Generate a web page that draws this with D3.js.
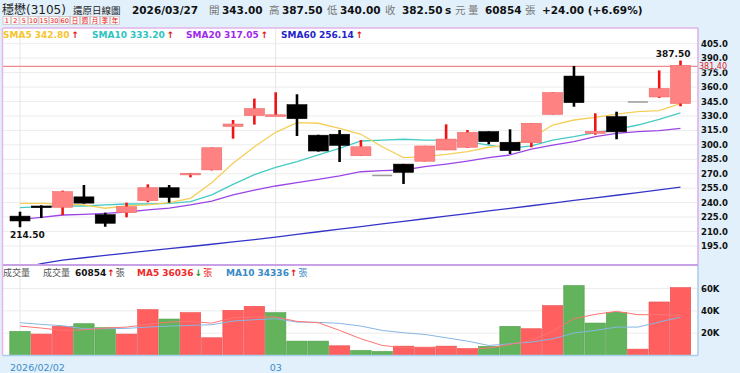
<!DOCTYPE html>
<html>
<head>
<meta charset="utf-8">
<script src="https://cdn.jsdelivr.net/npm/d3@7"></script>
<style>
body { margin: 0; background: #e1f0fb; }
svg { display: block; font-family: "DejaVu Sans", "Noto Sans CJK TC", sans-serif; }
</style>
</head>
<body>
<div id="chart"></div>
<script>
// daily candles 2026/02/02 .. 2026/03/27 (adjusted)
const opens  = [226, 236.5, 235.2, 246, 227.5, 229.6, 242, 255.5, 269.5, 274, 319.2, 330.5, 330.5, 341.7, 310, 311, 288.7, 268.2, 280, 283, 294.7, 297.5, 313.7, 302.7, 302.2, 331.7, 371.4, 312, 329.3, 344.5, 349.7, 343];
const highs  = [230.6, 237.3, 252.5, 258.3, 229.6, 240, 259, 258.3, 270.7, 297.2, 325.8, 348, 354.6, 352.5, 310.5, 315.4, 305, 268.2, 280.2, 299, 321.3, 315.4, 314, 316.1, 322.6, 354.5, 381.9, 332.8, 334.4, 344.5, 377.3, 387.5];
const lows   = [214.5, 224, 227, 239, 215, 224.8, 240.4, 240, 266.3, 273.5, 306.4, 321, 330.4, 309.2, 293, 282.2, 288.5, 268.2, 259.4, 282.8, 294.5, 297, 300.6, 290.5, 297.5, 331.5, 339.6, 310.5, 305.8, 344.5, 348.7, 340];
const closes = [221, 235.5, 251.4, 239.5, 218.6, 235.8, 255.5, 245.5, 270.5, 297, 321.6, 337.6, 331.2, 327.2, 293.6, 299.5, 298, 268.2, 271.5, 298.8, 306, 313, 303.3, 294, 322.4, 354.2, 343.8, 314, 313.5, 344.5, 358.5, 382.5];
const prevClose = 224;

const sma5  = [239.3, 239.3, 238.6, 237.6, 234.2, 236.6, 237.6, 240, 244.5, 260.7, 280.8, 298.1, 313, 323, 322.4, 317.2, 311, 298, 286.7, 287.7, 290.2, 292.9, 297.5, 299.8, 307, 320.6, 325.8, 328.6, 332, 334.4, 335.5, 342.8];
const sma10 = [234.8, 235.8, 236.5, 236.5, 237.6, 238.6, 238.6, 239.3, 241, 248, 259, 269, 276.7, 282.5, 289.5, 296.4, 304, 305, 305.8, 305, 305, 303.3, 299.8, 296.4, 299, 305, 308.5, 312.6, 316.1, 320.6, 326.5, 333.2];
const sma20 = [222.7, 224.8, 227.2, 227.9, 228.9, 230.3, 232.4, 234.4, 237.6, 241.5, 248, 253.1, 257.3, 260.7, 264.2, 267.7, 272.1, 273.2, 273.9, 277.3, 280.1, 283.2, 286.7, 289.5, 295.5, 299.8, 303.3, 308.5, 312, 313.7, 314.8, 317.05];
const sma60 = [171.5, 176.6, 180.4, 182.8, 185.2, 187.6, 189.9, 192.2, 194.5, 196.8, 199.2, 201.6, 204.3, 207.0, 209.8, 212.5, 215.2, 217.9, 220.6, 223.3, 226.0, 228.7, 231.4, 234.1, 236.8, 239.5, 242.3, 245.0, 247.7, 250.4, 253.2, 256.14];

const volumes = [21600, 19200, 26100, 28500, 24900, 19200, 41100, 32700, 38400, 15900, 40500, 44100, 38400, 12900, 12900, 8700, 4500, 3600, 8400, 7500, 8400, 6000, 8100, 26100, 24000, 44700, 62700, 29100, 38700, 5700, 48000, 60854];
const volMa5  = [26400, 24600, 22500, 23000, 24600, 25500, 27900, 30000, 30600, 29000, 34000, 34500, 34500, 30600, 29400, 22500, 15000, 9000, 6900, 6900, 6600, 6000, 6600, 9900, 13500, 21900, 33000, 36900, 39600, 36600, 36600, 36036];
const volMa10 = [29400, 27900, 26700, 24000, 24000, 24300, 25500, 26400, 27000, 27600, 30900, 32100, 33000, 30000, 29700, 28800, 26400, 22500, 20400, 18900, 15900, 12900, 9000, 10500, 12000, 15000, 20100, 22500, 25500, 25500, 30000, 34336];

const priceTicks = [195, 210, 225, 240, 255, 270, 285, 300, 315, 330, 345, 360, 375, 390, 405];
const volTicks = [20000, 40000, 60000];
const dateTickIdx = [0, 12];
const dateTickText = ['2026/02/02', '03'];
const refPrice = 381.40;
const btnLabels = ['1', '2', '5', '10', '15', '30', '60', '日', '週', '月', '季', '年'];

const W = 740, H = 373;
const L = 3, R = 698, T = 28, PB = 265, VB = 355.5;

const svg = d3.select('#chart').append('svg').attr('width', W).attr('height', H);

const n = closes.length;
const x = d3.scalePoint().domain(d3.range(n)).range([20, 680.5]);
const y = d3.scaleLinear().domain([195, 405]).range([246, 43.7]);
const yv = d3.scaleLinear().domain([0, 60000]).range([VB, 288.6]);

// plot background
svg.append('rect').attr('x', L).attr('y', T).attr('width', R - L).attr('height', VB - T).attr('fill', '#fff');

const defs = svg.append('defs');
defs.append('clipPath').attr('id', 'cp').append('rect').attr('x', L).attr('y', T).attr('width', R - L).attr('height', PB - T);
defs.append('clipPath').attr('id', 'cv').append('rect').attr('x', L).attr('y', PB).attr('width', R - L).attr('height', VB - PB);

// grid
svg.append('g').selectAll('line').data(priceTicks).join('line')
  .attr('x1', L).attr('x2', R).attr('y1', d => y(d)).attr('y2', d => y(d))
  .attr('stroke', '#ececec').attr('stroke-width', 1);
svg.append('g').selectAll('line').data(volTicks).join('line')
  .attr('x1', L).attr('x2', R).attr('y1', d => yv(d)).attr('y2', d => yv(d))
  .attr('stroke', '#ececec').attr('stroke-width', 1);
svg.append('g').selectAll('line').data(dateTickIdx).join('line')
  .attr('x1', d => x(d)).attr('x2', d => x(d)).attr('y1', T).attr('y2', VB)
  .attr('stroke', '#e6e6e6').attr('stroke-width', 1);

// reference line
svg.append('line').attr('x1', L).attr('x2', R).attr('y1', y(refPrice)).attr('y2', y(refPrice))
  .attr('stroke', '#f08a8a').attr('stroke-width', 1.2);

// price MAs
const pg = svg.append('g').attr('clip-path', 'url(#cp)');
const lineOf = arr => d3.line().x((d, i) => x(i)).y(d => y(d))(arr);
[[sma60, '#3434c8'], [sma20, '#9b45e6'], [sma10, '#46cbc4'], [sma5, '#f5cf5a']].forEach(([arr, c]) => {
  pg.append('path').attr('d', lineOf(arr)).attr('fill', 'none').attr('stroke', c).attr('stroke-width', 1.3);
});

// candles
const kind = i => closes[i] > opens[i] ? 'up' : (closes[i] < opens[i] ? 'down' : 'flat');
const cg = svg.append('g');
d3.range(n).forEach(i => {
  const k = kind(i), cx = x(i);
  if (k === 'flat') {
    cg.append('line').attr('x1', cx - 10).attr('x2', cx + 10).attr('y1', y(closes[i])).attr('y2', y(closes[i]))
      .attr('stroke', '#9a9a9a').attr('stroke-width', 1.5);
    return;
  }
  cg.append('line').attr('x1', cx).attr('x2', cx).attr('y1', y(highs[i])).attr('y2', y(lows[i]))
    .attr('stroke', k === 'up' ? '#ee1414' : '#000').attr('stroke-width', 2.6);
  const top = y(Math.max(opens[i], closes[i])), bot = y(Math.min(opens[i], closes[i]));
  cg.append('rect').attr('x', cx - 10).attr('width', 20).attr('y', top).attr('height', Math.max(1.6, bot - top))
    .attr('fill', k === 'up' ? '#ff8282' : '#000')
    .attr('stroke', k === 'up' ? '#f06868' : '#000').attr('stroke-width', 0.6);
});

// high / low labels
const hiIdx = d3.maxIndex(highs), loIdx = d3.minIndex(lows);
svg.append('text').attr('x', x(hiIdx) + 10).attr('y', y(highs[hiIdx]) - 4).attr('text-anchor', 'end')
  .attr('font-size', 9).attr('font-weight', 'bold').attr('fill', '#111').text(highs[hiIdx].toFixed(2));
svg.append('text').attr('x', x(loIdx) - 10).attr('y', y(lows[loIdx]) + 11)
  .attr('font-size', 9).attr('font-weight', 'bold').attr('fill', '#111').text(lows[loIdx].toFixed(2));

// volume bars
const vg = svg.append('g');
vg.selectAll('rect').data(volumes).join('rect')
  .attr('x', (d, i) => x(i) - 10.2).attr('width', 20.4)
  .attr('y', d => yv(d)).attr('height', d => VB - yv(d))
  .attr('fill', (d, i) => closes[i] >= (i ? closes[i - 1] : prevClose) ? '#ff5f5f' : '#62b35b')
  .attr('stroke', (d, i) => closes[i] >= (i ? closes[i - 1] : prevClose) ? '#ec4c4c' : '#4e9d48')
  .attr('stroke-width', 0.6);
const vlg = svg.append('g').attr('clip-path', 'url(#cv)');
const vline = arr => d3.line().x((d, i) => x(i)).y(d => yv(d))(arr);
vlg.append('path').attr('d', vline(volMa10)).attr('fill', 'none').attr('stroke', '#86b6e2').attr('stroke-width', 1);
vlg.append('path').attr('d', vline(volMa5)).attr('fill', 'none').attr('stroke', '#ff7474').attr('stroke-width', 1);

// borders
svg.append('line').attr('x1', L).attr('x2', R).attr('y1', T).attr('y2', T).attr('stroke', '#e2b4ea').attr('stroke-width', 1.5);
svg.append('line').attr('x1', 2.5).attr('x2', 2.5).attr('y1', T).attr('y2', VB).attr('stroke', '#eab4ea').attr('stroke-width', 1.5);
svg.append('line').attr('x1', R).attr('x2', R).attr('y1', T).attr('y2', PB).attr('stroke', '#dcaee8').attr('stroke-width', 1.5);
svg.append('line').attr('x1', R).attr('x2', R).attr('y1', PB).attr('y2', VB).attr('stroke', '#a9cdea').attr('stroke-width', 1.5);
svg.append('line').attr('x1', L).attr('x2', R).attr('y1', VB).attr('y2', VB).attr('stroke', '#a9cdea').attr('stroke-width', 1.5);
svg.append('line').attr('x1', L).attr('x2', R).attr('y1', PB).attr('y2', PB).attr('stroke', '#c7a0e6').attr('stroke-width', 2);

// right axes
const ax = svg.append('g').attr('font-size', 8.5).attr('font-weight', 'bold').attr('fill', '#111');
ax.selectAll('.pt').data(priceTicks).join('text').attr('class', 'pt')
  .attr('x', 701).attr('y', d => y(d) + 3).text(d => d.toFixed(1));
ax.selectAll('.vt').data(volTicks).join('text').attr('class', 'vt')
  .attr('x', 701).attr('y', d => yv(d) + 3).text(d => (d / 1000) + 'K');
svg.append('rect').attr('x', 699).attr('y', y(refPrice) - 4.5).attr('width', 30).attr('height', 7.5).attr('fill', '#e1f0fb');
svg.append('text').attr('x', 699).attr('y', y(refPrice) + 2.5).attr('font-size', 8).attr('fill', '#e02424').text(refPrice.toFixed(2));

// date labels
svg.append('g').selectAll('text').data(dateTickIdx).join('text')
  .attr('x', (d, i) => i === 0 ? x(d) - 10 : x(d))
  .attr('text-anchor', (d, i) => i === 0 ? 'start' : 'middle')
  .attr('y', 371).attr('font-size', 9.5).attr('fill', '#3d8cc8')
  .text((d, i) => dateTickText[i]);

// header
const hd = svg.append('g').attr('font-size', 10);
const put = (g, xx, yy, txt, col, bold, size) => g.append('text').attr('x', xx).attr('y', yy).attr('fill', col)
  .attr('font-weight', bold ? 'bold' : 'normal').attr('font-size', size || null).text(txt);
put(hd, 2, 14, '穩懋(3105)', '#222', false, 12);
put(hd, 73, 14, '還原日線圖', '#222', false, 9.5);
put(hd, 132, 14, '2026/03/27', '#111', true, 10.5);
put(hd, 209, 14, '開', '#777', false, 10.5);
put(hd, 222, 14, opens[n - 1].toFixed(2), '#111', true, 10.5);
put(hd, 269, 14, '高', '#777', false, 10.5);
put(hd, 282, 14, highs[n - 1].toFixed(2), '#111', true, 10.5);
put(hd, 327, 14, '低', '#777', false, 10.5);
put(hd, 340, 14, lows[n - 1].toFixed(2), '#111', true, 10.5);
put(hd, 385, 14, '收', '#777', false, 10.5);
put(hd, 402, 14, closes[n - 1].toFixed(2), '#111', true, 10.5);
put(hd, 445, 14, 's', '#111', true, 10.5);
put(hd, 455, 14, '元', '#777', false, 10.5);
put(hd, 468, 14, '量', '#777', false, 10.5);
put(hd, 485, 14, String(volumes[n - 1]), '#111', true, 10.5);
put(hd, 525, 14, '張', '#777', false, 10.5);
const chg = closes[n - 1] - closes[n - 2];
put(hd, 542, 14, '+' + chg.toFixed(2) + ' (+' + (chg / closes[n - 2] * 100).toFixed(2) + '%)', '#111', true, 10.5);

// period buttons
const bw = s => /\d/.test(s) ? (s.length > 1 ? 9.5 : 7.5) : 9;
let bx = 3;
const bg = svg.append('g');
btnLabels.forEach(s => {
  const w = bw(s);
  bg.append('rect').attr('x', bx).attr('y', 16.5).attr('width', w).attr('height', 8).attr('fill', '#fff6f6')
    .attr('stroke', '#c4b2b2').attr('stroke-width', 0.6);
  bg.append('text').attr('x', bx + w / 2).attr('y', 23).attr('text-anchor', 'middle')
    .attr('font-size', 6.5).attr('fill', '#e01818').text(s);
  bx += w + 1;
});

// SMA legend
const smaLeg = [
  { x: 3, t: 'SMA5 ' + sma5[n - 1].toFixed(2), c: '#f5c52e' },
  { x: 92, t: 'SMA10 ' + sma10[n - 1].toFixed(2), c: '#2fc3c0' },
  { x: 186, t: 'SMA20 ' + sma20[n - 1].toFixed(2), c: '#a028ee' },
  { x: 281, t: 'SMA60 ' + sma60[n - 1].toFixed(2), c: '#2424cc' }
];
smaLeg.forEach(d => {
  const t = svg.append('text').attr('x', d.x).attr('y', 37.5).attr('font-size', 9).attr('font-weight', 'bold');
  t.append('tspan').attr('fill', d.c).text(d.t);
  t.append('tspan').attr('fill', '#e01010').attr('dx', 2).text('↑');
});

// volume legend
const vl = svg.append('g').attr('font-size', 9);
put(vl, 3, 276, '成交量', '#555', false);
const v1 = vl.append('text').attr('x', 43).attr('y', 276);
v1.append('tspan').attr('fill', '#555').text('成交量 ');
v1.append('tspan').attr('fill', '#111').attr('font-weight', 'bold').attr('dx', 2).text(String(volumes[n - 1]));
v1.append('tspan').attr('fill', '#e01010').attr('font-weight', 'bold').attr('dx', 1).text('↑');
v1.append('tspan').attr('fill', '#555').attr('dx', 1).text('張');
const v2 = vl.append('text').attr('x', 137).attr('y', 276);
v2.append('tspan').attr('fill', '#ee2a2a').attr('font-weight', 'bold').text('MA5 ' + volMa5[n - 1]);
v2.append('tspan').attr('fill', '#1a9a1a').attr('font-weight', 'bold').attr('dx', 1).text('↓');
v2.append('tspan').attr('fill', '#ee2a2a').attr('dx', 1).text('張');
const v3 = vl.append('text').attr('x', 226).attr('y', 276);
v3.append('tspan').attr('fill', '#3a8ac6').attr('font-weight', 'bold').text('MA10 ' + volMa10[n - 1]);
v3.append('tspan').attr('fill', '#e01010').attr('font-weight', 'bold').attr('dx', 1).text('↑');
v3.append('tspan').attr('fill', '#3a8ac6').attr('dx', 1).text('張');
</script>
</body>
</html>
